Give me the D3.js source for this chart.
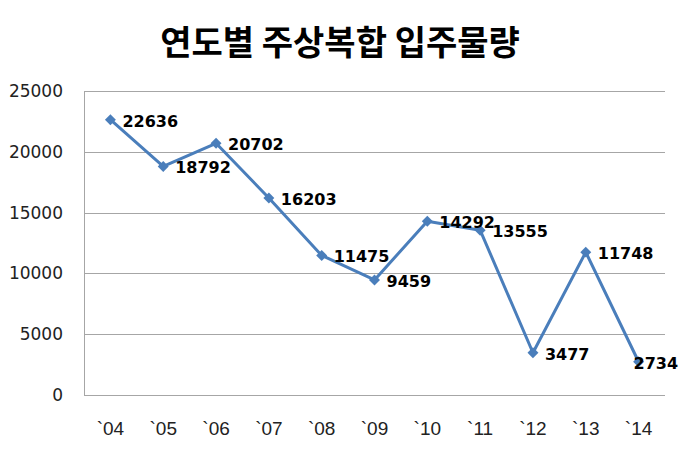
<!DOCTYPE html>
<html><head><meta charset="utf-8">
<script src="https://cdn.jsdelivr.net/npm/d3@7"></script>
<style>body{margin:0;background:#fff}</style>
</head><body>
<script>
const title = "연도별 주상복합 입주물량";
const years = ["`04","`05","`06","`07","`08","`09","`10","`11","`12","`13","`14"];
const values = [22636,18792,20702,16203,11475,9459,14292,13555,3477,11748,2734];
const yTicks = [0,5000,10000,15000,20000,25000];

const W=679,H=454;
const svg=d3.select("body").append("svg").attr("width",W).attr("height",H);
const x=d3.scaleBand().domain(years).range([84,665]);
const y=d3.scaleLinear().domain([0,25000]).range([395,91]);

svg.append("text").attr("x",340).attr("y",55).attr("text-anchor","middle")
  .attr("font-family","'Noto Sans CJK KR'").attr("font-weight","bold").attr("font-size",34)
  .attr("fill","#000").text(title);

svg.append("g").selectAll("line").data(yTicks).join("line")
  .attr("x1",84).attr("x2",665).attr("y1",d=>Math.round(y(d))+0.5).attr("y2",d=>Math.round(y(d))+0.5)
  .attr("stroke","#a6a6a6").attr("stroke-width",1);
svg.append("line").attr("x1",84.5).attr("x2",84.5).attr("y1",91).attr("y2",395.5)
  .attr("stroke","#a6a6a6");

const yAxis=d3.axisLeft(y).tickValues(yTicks).tickFormat(d3.format("d")).tickSize(0).tickPadding(21);
const ga=svg.append("g").attr("transform","translate(84,0)").call(yAxis);
ga.select(".domain").remove();
ga.selectAll("text").attr("font-family","'DejaVu Sans'").attr("font-size",17).attr("fill","#222");

const xAxis=d3.axisBottom(x).tickSize(0).tickPadding(27);
const gx=svg.append("g").attr("transform","translate(0,395)").call(xAxis);
gx.select(".domain").remove();
gx.selectAll("text").attr("font-family","'Liberation Sans'").attr("font-size",19).attr("fill","#222");

const cx=d=>x(d)+x.bandwidth()/2;
const line=d3.line().x((d,i)=>cx(years[i])).y(d=>y(d));
svg.append("path").datum(values).attr("d",line).attr("fill","none")
  .attr("stroke","#4a7ebb").attr("stroke-width",3).attr("stroke-linejoin","round");
svg.append("g").selectAll("path").data(values).join("path")
  .attr("d",d3.symbol(d3.symbolSquare,60))
  .attr("transform",(d,i)=>`translate(${cx(years[i])},${y(d)}) rotate(45)`)
  .attr("fill","#4a7ebb");

svg.append("g").selectAll("text").data(values).join("text")
  .attr("x",(d,i)=>cx(years[i])+(i===values.length-1?-5:12))
  .attr("y",(d,i)=>y(d)+7)
  .attr("font-family","'DejaVu Sans'").attr("font-weight","bold").attr("font-size",16)
  .attr("fill","#000").text(d=>d);
</script>
</body></html>
